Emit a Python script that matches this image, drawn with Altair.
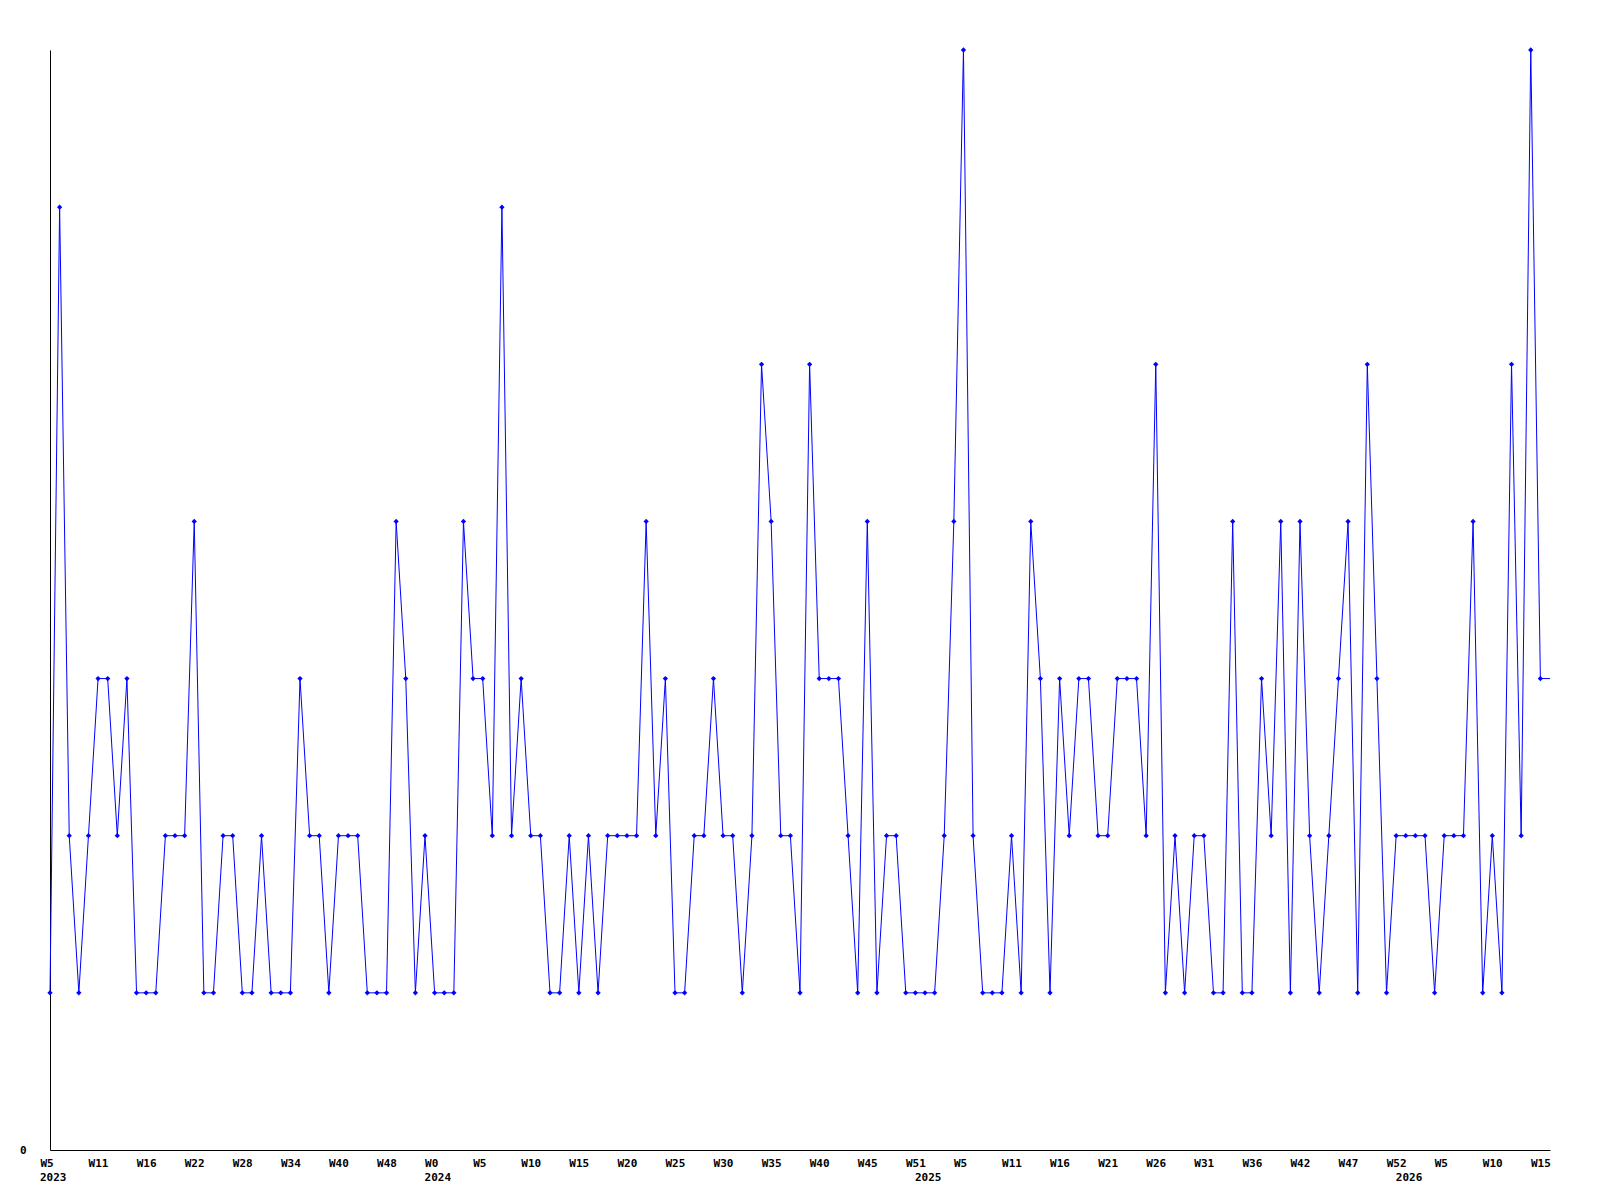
import json
import altair as alt
import pandas as pd

# weekly counts (one per point, left to right)
values = [
    1, 6, 2, 1, 2, 3, 3, 2, 3, 1,
    1, 1, 2, 2, 2, 4, 1, 1, 2, 2,
    1, 1, 2, 1, 1, 1, 3, 2, 2, 1,
    2, 2, 2, 1, 1, 1, 4, 3, 1, 2,
    1, 1, 1, 4, 3, 3, 2, 6, 2, 3,
    2, 2, 1, 1, 2, 1, 2, 1, 2, 2,
    2, 2, 4, 2, 3, 1, 1, 2, 2, 3,
    2, 2, 1, 2, 5, 4, 2, 2, 1, 5,
    3, 3, 3, 2, 1, 4, 1, 2, 2, 1,
    1, 1, 1, 2, 4, 7, 2, 1, 1, 1,
    2, 1, 4, 3, 1, 3, 2, 3, 3, 2,
    2, 3, 3, 3, 2, 5, 1, 2, 1, 2,
    2, 1, 1, 4, 1, 1, 3, 2, 4, 1,
    4, 2, 1, 2, 3, 4, 1, 5, 3, 1,
    2, 2, 2, 2, 1, 2, 2, 2, 4, 1,
    2, 1, 5, 2, 7, 3,
]
# current (partial) week: line only, no marker
partial_value = 3

week_labels = [
    "W5", "W11", "W16", "W22", "W28", "W34", "W40", "W48",
    "W0", "W5", "W10", "W15", "W20", "W25", "W30", "W35",
    "W40", "W45", "W51", "W5", "W11", "W16", "W21", "W26",
    "W31", "W36", "W42", "W47", "W52", "W5", "W10", "W15",
]
label_step = 5

years = ["2023", "2024", "2025", "2026"]
year_index = [0, 40, 91, 141]

n = len(values)
line_df = pd.DataFrame({"idx": list(range(n + 1)), "count": values + [partial_value]})
point_df = pd.DataFrame({"idx": list(range(n)), "count": values})
year_df = pd.DataFrame({"idx": year_index, "year": years})

FONT = "DejaVu Sans Mono"
BLUE = "#0000ff"

x_scale = alt.Scale(domain=[0, n], nice=False, zero=False)
y_scale = alt.Scale(domain=[0, 7], nice=False)

x_axis = alt.Axis(
    values=[k * label_step for k in range(len(week_labels))],
    labelExpr=f"{json.dumps(week_labels)}[round(datum.value / {label_step})]",
    title=None, grid=False, ticks=False, tickSize=0,
    labelPadding=7, labelAlign="left", labelOffset=-10,
    labelFlush=False, labelOverlap=False, labelBound=False,
    labelFont=FONT, labelFontWeight="bold", labelFontSize=11,
    labelColor="black", domainColor="black", domainWidth=1,
)
y_axis = alt.Axis(
    values=[0], format="d", title=None, grid=False, ticks=False, tickSize=0,
    labelPadding=24, labelFlush=False, labelOverlap=False,
    labelFont=FONT, labelFontWeight="bold", labelFontSize=11,
    labelColor="black", domainColor="black", domainWidth=1,
)

line = alt.Chart(line_df).mark_line(color=BLUE, strokeWidth=1).encode(
    x=alt.X("idx:Q", scale=x_scale, axis=x_axis),
    y=alt.Y("count:Q", scale=y_scale, axis=y_axis),
)
points = alt.Chart(point_df).mark_point(
    shape="diamond", filled=True, size=28, color=BLUE, opacity=1
).encode(x="idx:Q", y="count:Q")

year_text = alt.Chart(year_df).mark_text(
    align="left", baseline="top", dx=-10, font=FONT, fontWeight="bold",
    fontSize=11, color="black"
).encode(x="idx:Q", y=alt.value(1122), text="year:N")

chart = alt.layer(line, points, year_text).properties(
    width=1500, height=1100,
    autosize=alt.AutoSizeParams(type="none"),
    padding={"left": 42, "top": 42, "right": 40, "bottom": 40},
    background="white",
).configure_view(stroke=None)

chart.save("out.html", embed_options={"renderer": "svg", "actions": False})
